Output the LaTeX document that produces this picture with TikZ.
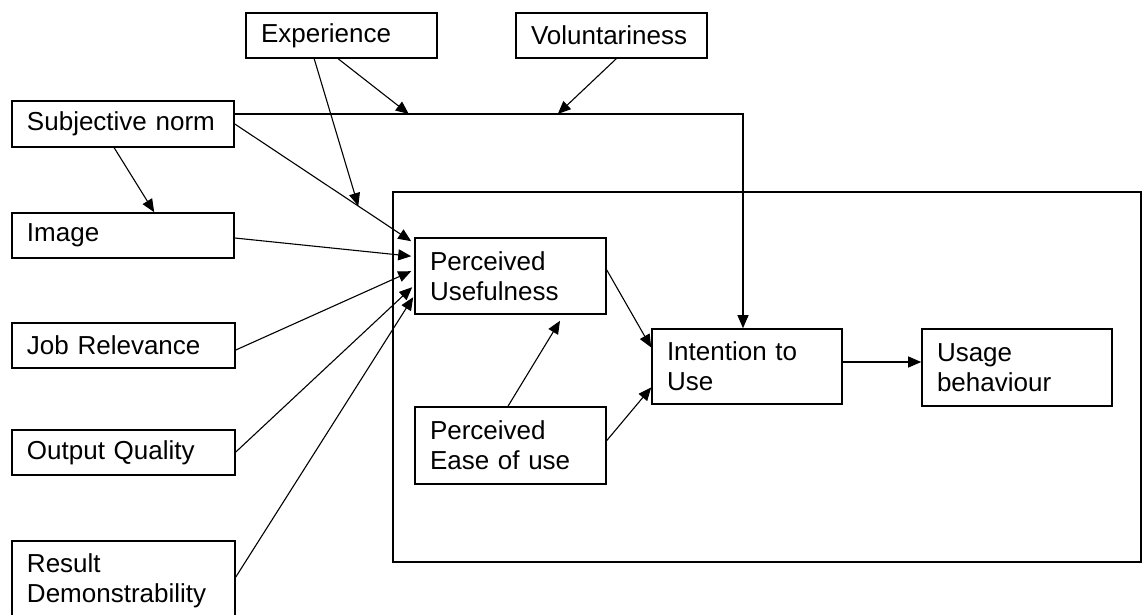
\documentclass[tikz,border=0pt]{standalone}
\usepackage{fontspec}
\setmainfont{Liberation Sans}
\usetikzlibrary{arrows.meta,calc}
\begin{document}
\begin{tikzpicture}[x=1pt,y=-1pt,
  box/.style={draw,line width=1.6pt,rectangle,inner xsep=15pt,inner ysep=0pt,
    align=left,font=\fontsize{26}{30}\selectfont,anchor=center},
  frame/.style={draw,line width=1.6pt,rectangle,inner sep=0pt},
  conn/.style={line width=1.1pt,-{Triangle[length=13pt,width=11pt]}},
]
\useasboundingbox (0,0) rectangle (1144,615);
\fill[white] (0,0) rectangle (1144,615);
\clip (0,0) rectangle (1144,615);

\node[frame,minimum width=748pt,minimum height=370pt] (frm) at (767,377) {};

\node[box,text width=161pt,minimum height=45pt] (exp) at (341.5,35.5) {Experience};
\node[box,text width=161pt,minimum height=45pt] (vol) at (611.5,35.5) {Voluntariness};
\node[box,text width=192pt,minimum height=46pt] (sn) at (123,124) {Subjective norm};
\node[box,text width=192pt,minimum height=45pt] (img) at (123,235.5) {Image};
\node[box,text width=193pt,minimum height=45pt] (job) at (123.5,345.5) {Job Relevance};
\node[box,text width=193pt,minimum height=45pt] (out) at (123.5,452.5) {Output Quality};
\node[box,text width=193pt,minimum height=80pt] (res) at (123.5,581) {Result\\Demonstrability};
\node[box,text width=161pt,minimum height=76pt] (pu) at (510.5,276) {Perceived\\Usefulness};
\node[box,text width=161pt,minimum height=77pt] (peou) at (510.5,445.5) {Perceived\\Ease of use};
\node[box,text width=160pt,minimum height=75pt] (int) at (747,366.5) {Intention to\\Use};
\node[box,text width=160pt,minimum height=77pt] (use) at (1017,367.5) {Usage\\behaviour};

\coordinate (snPU) at ($(pu.north west)+(-3,4)$);
\coordinate (m0) at ($(sn.east)!0.7!(snPU)$);
\coordinate (m1) at ($(sn.east)+(174,-10)$);
\coordinate (m2) at ($(sn.east)+(323,-10)$);

\draw[conn] (sn.east) -- (snPU);
\draw[conn] ($(exp.south west)+(69,0)$) -- (m0);
\draw[conn] ($(sn.east)+(0,-10)$) -| ($(int.north)+(-4,0)$);
\draw[conn] ($(exp.south west)+(93,0)$) -- (m1);
\draw[conn] ($(vol.south west)+(101,0)$) -- (m2);
\draw[conn] ($(sn.south west)+(103,0)$) -- ($(img.north west)+(143,0)$);
\draw[conn] ($(img.east)+(0,2.5)$) -- ($(pu.north west)+(-3,19)$);
\draw[conn] ($(job.east)+(0,4.5)$) -- ($(pu.north west)+(-3,34)$);
\draw[conn] ($(out.east)+(0,-0.5)$) -- ($(pu.north west)+(-2,50)$);
\draw[conn] ($(res.east)+(0,-4)$) -- ($(pu.north west)+(-1,60)$);
\draw[conn] ($(pu.east)+(0,-6)$) -- ($(int.west)+(0,-19)$);
\draw[conn] ($(peou.east)+(0,-5)$) -- ($(int.west)+(0,21)$);
\draw[conn] ($(peou.north)+(-2.5,0)$) -- ($(pu.south)+(49.5,6)$);
\draw[conn] ($(int.east)+(0,-4.5)$) -- ($(use.west)+(0,-5.5)$);
\end{tikzpicture}
\end{document}
